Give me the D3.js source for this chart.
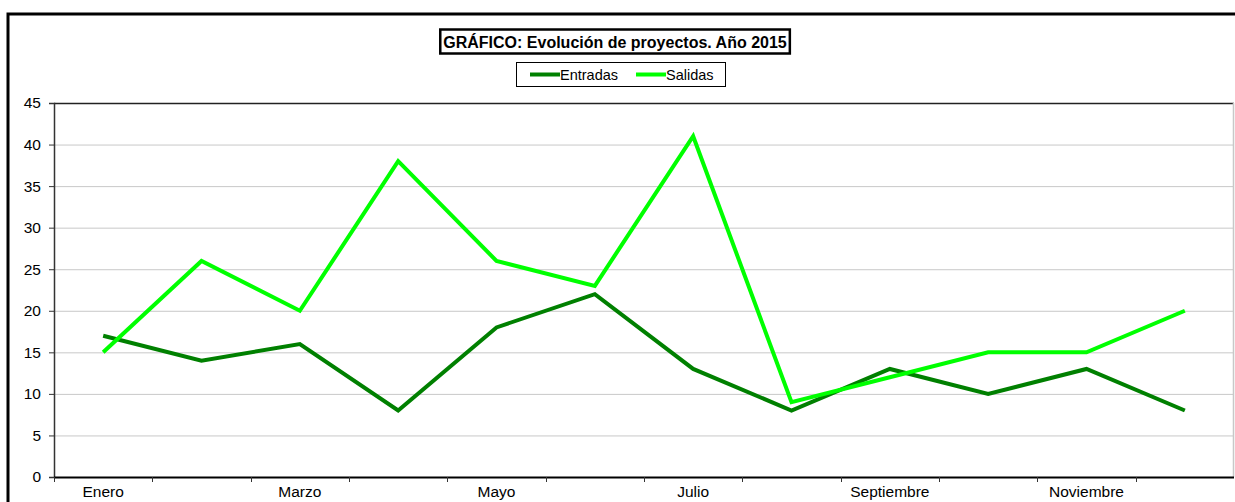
<!DOCTYPE html>
<html>
<head>
<meta charset="utf-8">
<script src="https://cdn.jsdelivr.net/npm/d3@7"></script>
<style>
  body { margin: 0; background: #fff; }
  svg { display: block; font-family: "Liberation Sans", Arial, sans-serif; }
</style>
</head>
<body>
<div id="chart"></div>
<script>
// data
const months = ["Enero", "Febrero", "Marzo", "Abril", "Mayo", "Junio", "Julio", "Agosto", "Septiembre", "Octubre", "Noviembre", "Diciembre"];
const entradas = [17, 14, 16, 8, 18, 22, 13, 8, 13, 10, 13, 8];
const salidas = [15, 26, 20, 38, 26, 23, 41, 9, 12, 15, 15, 20];
const yTicks = [0, 5, 10, 15, 20, 25, 30, 35, 40, 45];
const seriesNames = ["Entradas", "Salidas"];
const colors = ["#008000", "#00ff00"];

const W = 1235, H = 502;
const plot = { left: 54, top: 103, right: 1234, bottom: 477 };

const svg = d3.select("#chart").append("svg")
  .attr("width", W).attr("height", H);

// outer chart border (runs off the right/bottom of the picture)
svg.append("rect")
  .attr("x", 8).attr("y", 14)
  .attr("width", W + 20).attr("height", H + 20)
  .attr("fill", "none").attr("stroke", "#000").attr("stroke-width", 3);

const x = d3.scaleBand().domain(months).range([plot.left, plot.right]);
const y = d3.scaleLinear().domain([0, 45]).range([plot.bottom, plot.top]);

// gridlines
svg.append("g")
  .selectAll("line")
  .data(yTicks.filter(d => d > 0 && d < 45))
  .join("line")
  .attr("x1", plot.left).attr("x2", plot.right)
  .attr("y1", d => y(d) + 0.5).attr("y2", d => y(d) + 0.5)
  .attr("stroke", "#c8c8c8").attr("stroke-width", 1);

// plot frame: top dark, right grey
svg.append("line")
  .attr("x1", plot.left).attr("x2", plot.right)
  .attr("y1", plot.top + 0.5).attr("y2", plot.top + 0.5)
  .attr("stroke", "#222").attr("stroke-width", 1.5);
svg.append("line")
  .attr("x1", plot.right - 0.5).attr("x2", plot.right - 0.5)
  .attr("y1", plot.top).attr("y2", plot.bottom)
  .attr("stroke", "#c8c8c8").attr("stroke-width", 1.5);

// Y axis
const yAxis = svg.append("g")
  .attr("transform", `translate(${plot.left},0)`)
  .call(d3.axisLeft(y).tickValues(yTicks).tickSize(5).tickPadding(8));
yAxis.attr("font-size", 15.5).attr("font-family", "Liberation Sans, Arial, sans-serif");
yAxis.select(".domain").attr("stroke", "#333").attr("stroke-width", 1.5);
yAxis.selectAll(".tick line").attr("stroke", "#333");
yAxis.selectAll("text").attr("fill", "#000");

// X axis: ticks at category boundaries, labels every other month
const xAxisG = svg.append("g")
  .attr("transform", `translate(0,${plot.bottom})`);
xAxisG.append("line")
  .attr("x1", plot.left).attr("x2", plot.right)
  .attr("y1", 0.5).attr("y2", 0.5)
  .attr("stroke", "#000").attr("stroke-width", 2);
xAxisG.selectAll("line.tk")
  .data(months)
  .join("line").attr("class", "tk")
  .attr("x1", d => Math.round(x(d)) + 0.5).attr("x2", d => Math.round(x(d)) + 0.5)
  .attr("y1", 0).attr("y2", 5)
  .attr("stroke", "#333");
xAxisG.selectAll("text")
  .data(months.filter((d, i) => i % 2 === 0))
  .join("text")
  .attr("x", d => x(d) + x.bandwidth() / 2)
  .attr("y", 20)
  .attr("text-anchor", "middle")
  .attr("font-size", 15.5)
  .text(d => d);

// lines
const line = d3.line()
  .x((d, i) => x(months[i]) + x.bandwidth() / 2)
  .y(d => y(d));

[entradas, salidas].forEach((vals, k) => {
  svg.append("path")
    .datum(vals)
    .attr("d", line)
    .attr("fill", "none")
    .attr("stroke", colors[k])
    .attr("stroke-width", 4)
    .attr("stroke-linejoin", "miter");
});

// title box
const titleG = svg.append("g");
const title = titleG.append("text")
  .attr("x", 615).attr("y", 47.5)
  .attr("text-anchor", "middle")
  .attr("font-size", 16).attr("font-weight", "bold")
  .text("GRÁFICO: Evolución de proyectos. Año 2015");
const tb = title.node().getBBox();
titleG.insert("rect", "text")
  .attr("x", tb.x - 3).attr("y", 29.5)
  .attr("width", tb.width + 6).attr("height", 24)
  .attr("fill", "#fff").attr("stroke", "#000").attr("stroke-width", 2.5);

// legend
const legend = svg.append("g");
legend.append("rect")
  .attr("x", 516.5).attr("y", 62.5)
  .attr("width", 209).attr("height", 24)
  .attr("fill", "#fff").attr("stroke", "#000").attr("stroke-width", 1);
const legX = [530, 636];
seriesNames.forEach((name, k) => {
  legend.append("line")
    .attr("x1", legX[k]).attr("x2", legX[k] + 30)
    .attr("y1", 74.5).attr("y2", 74.5)
    .attr("stroke", colors[k]).attr("stroke-width", 4);
  legend.append("text")
    .attr("x", legX[k] + 30).attr("y", 79.5)
    .attr("font-size", 14.5)
    .text(name);
});
</script>
</body>
</html>
